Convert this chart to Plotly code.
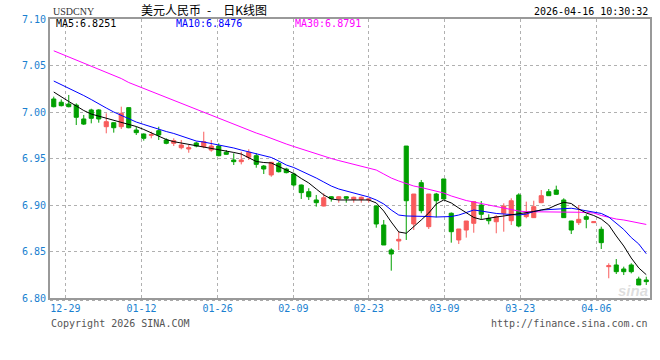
import plotly.graph_objects as go

# ---------------- data ----------------
opens = [7.0140, 7.0105, 7.0086, 7.0075, 6.9925, 7.0022, 7.0022, 6.9842, 6.9885, 6.9842,
         7.0047, 6.9806, 6.9763, 6.9750, 6.9799, 6.9699, 6.9663, 6.9616, 6.9602, 6.9667,
         6.9627, 6.9591, 6.9634, 6.9567, 6.9484, 6.9466, 6.9513, 6.9530, 6.9419, 6.9323,
         6.9448, 6.9387, 6.9333, 6.9215, 6.9143, 6.9054, 6.8989, 6.9089, 6.9065, 6.9089,
         6.9061, 6.9061, 6.9054, 6.8989, 6.8785, 6.8516, 6.8613, 6.9634, 6.8796, 6.9240,
         6.8767, 6.9118, 6.9280, 6.8911, 6.8624, 6.8731, 6.8803, 6.9000, 6.8857, 6.8820,
         6.8911, 6.8831, 6.9108, 6.8875, 6.8864, 6.9025, 6.9143, 6.9161, 6.9054, 6.8828,
         6.8810, 6.8875, 6.8810, 6.8739, 6.8337, 6.8355, 6.8312, 6.8355, 6.8204, 6.8194]

highs = [7.0165, 7.0135, 7.0183, 7.0093, 6.9968, 7.0035, 7.0030, 6.9986, 6.9890, 7.0057,
         7.0050, 6.9842, 6.9770, 6.9788, 6.9842, 6.9717, 6.9717, 6.9699, 6.9645, 6.9680,
         6.9788, 6.9699, 6.9663, 6.9591, 6.9556, 6.9573, 6.9599, 6.9556, 6.9430, 6.9462,
         6.9466, 6.9400, 6.9348, 6.9220, 6.9180, 6.9108, 6.9126, 6.9095, 6.9095, 6.9095,
         6.9090, 6.9090, 6.9075, 6.8995, 6.8839, 6.8534, 6.8713, 6.9634, 6.9118, 6.9269,
         6.9118, 6.9130, 6.9280, 6.8920, 6.8742, 6.8828, 6.9036, 6.9043, 6.8900, 6.8892,
         6.9018, 6.9072, 6.9126, 6.9036, 6.9046, 6.9161, 6.9172, 6.9208, 6.9072, 6.8830,
         6.9000, 6.8900, 6.8822, 6.8767, 6.8373, 6.8419, 6.8337, 6.8373, 6.8229, 6.8229]

lows = [7.0050, 7.0060, 7.0050, 6.9860, 6.9860, 6.9878, 6.9885, 6.9771, 6.9778, 6.9817,
        6.9825, 6.9753, 6.9692, 6.9717, 6.9699, 6.9653, 6.9634, 6.9599, 6.9562, 6.9620,
        6.9610, 6.9573, 6.9525, 6.9540, 6.9430, 6.9437, 6.9484, 6.9401, 6.9333, 6.9304,
        6.9350, 6.9340, 6.9197, 6.9065, 6.9054, 6.8982, 6.8985, 6.9036, 6.9025, 6.9025,
        6.9025, 6.9025, 6.9025, 6.8756, 6.8570, 6.8294, 6.8516, 6.8624, 6.8731, 6.8911,
        6.8742, 6.8867, 6.9065, 6.8595, 6.8581, 6.8649, 6.8702, 6.8846, 6.8792, 6.8696,
        6.8713, 6.8785, 6.8760, 6.8857, 6.8860, 6.9020, 6.9100, 6.9110, 6.8864, 6.8688,
        6.8785, 6.8750, 6.8808, 6.8527, 6.8212, 6.8258, 6.8247, 6.8265, 6.8140, 6.8140]

closes = [7.0057, 7.0068, 7.0057, 6.9943, 6.9870, 6.9932, 6.9925, 6.9896, 6.9831, 6.9986,
          6.9831, 6.9778, 6.9717, 6.9756, 6.9753, 6.9663, 6.9692, 6.9645, 6.9616, 6.9634,
          6.9681, 6.9634, 6.9530, 6.9545, 6.9466, 6.9484, 6.9567, 6.9437, 6.9387, 6.9459,
          6.9358, 6.9348, 6.9215, 6.9133, 6.9089, 6.9025, 6.9078, 6.9068, 6.9089, 6.9072,
          6.9083, 6.9083, 6.9065, 6.8796, 6.8570, 6.8473, 6.8631, 6.9046, 6.9118, 6.8939,
          6.9118, 6.9046, 6.9065, 6.8713, 6.8742, 6.8828, 6.9036, 6.8900, 6.8831, 6.8875,
          6.8989, 6.9046, 6.8774, 6.8911, 6.8982, 6.9100, 6.9100, 6.9115, 6.8864, 6.8731,
          6.8846, 6.8846, 6.8820, 6.8595, 6.8347, 6.8283, 6.8283, 6.8283, 6.8140, 6.8176]

ma5 = [7.0215, 7.0161, 7.0113, 7.0065, 7.0016, 6.9978, 6.9957, 6.9935, 6.9909, 6.9887,
       6.9866, 6.9844, 6.9812, 6.9774, 6.9737, 6.9704, 6.9681, 6.9667, 6.9651, 6.9640,
       6.9629, 6.9608, 6.9597, 6.9581, 6.9565, 6.9548, 6.9505, 6.9468, 6.9457, 6.9452,
       6.9414, 6.9376, 6.9339, 6.9285, 6.9237, 6.9172, 6.9108, 6.9065, 6.9054, 6.9054,
       6.9054, 6.9059, 6.9054, 6.9022, 6.8935, 6.8817, 6.8710, 6.8696, 6.8763, 6.8839,
       6.8914, 6.9011, 6.9054, 6.9022, 6.8968, 6.8914, 6.8866, 6.8844, 6.8860, 6.8871,
       6.8882, 6.8892, 6.8903, 6.8914, 6.8930, 6.8946, 6.8962, 6.9000, 6.9029, 6.9016,
       6.8957, 6.8914, 6.8887, 6.8849, 6.8785, 6.8667, 6.8559, 6.8430, 6.8323, 6.8251]

ma10 = [7.0333, 7.0296, 7.0258, 7.0220, 7.0177, 7.0134, 7.0086, 7.0043, 7.0000, 6.9962,
        6.9925, 6.9892, 6.9866, 6.9839, 6.9817, 6.9790, 6.9769, 6.9742, 6.9710, 6.9688,
        6.9677, 6.9661, 6.9651, 6.9634, 6.9613, 6.9591, 6.9570, 6.9556, 6.9532, 6.9511,
        6.9473, 6.9430, 6.9403, 6.9366, 6.9333, 6.9290, 6.9247, 6.9204, 6.9172, 6.9151,
        6.9129, 6.9108, 6.9086, 6.9054, 6.9011, 6.8946, 6.8892, 6.8882, 6.8882, 6.8882,
        6.8876, 6.8871, 6.8871, 6.8876, 6.8892, 6.8919, 6.8946, 6.8935, 6.8919, 6.8909,
        6.8903, 6.8898, 6.8892, 6.8903, 6.8930, 6.8946, 6.8952, 6.8957, 6.8962, 6.8965,
        6.8952, 6.8935, 6.8919, 6.8909, 6.8871, 6.8806, 6.8737, 6.8650, 6.8581, 6.8476]

ma30 = [7.0658, 7.0625, 7.0591, 7.0558, 7.0526, 7.0492, 7.0459, 7.0426, 7.0392, 7.0360,
        7.0317, 7.0285, 7.0253, 7.0220, 7.0188, 7.0156, 7.0124, 7.0091, 7.0059, 7.0027,
        6.9995, 6.9962, 6.9927, 6.9898, 6.9868, 6.9839, 6.9806, 6.9774, 6.9747, 6.9715,
        6.9688, 6.9656, 6.9629, 6.9602, 6.9575, 6.9548, 6.9527, 6.9500, 6.9478, 6.9457,
        6.9435, 6.9419, 6.9398, 6.9376, 6.9333, 6.9290, 6.9258, 6.9231, 6.9204, 6.9188,
        6.9167, 6.9151, 6.9129, 6.9097, 6.9070, 6.9048, 6.9032, 6.9016, 6.8995, 6.8978,
        6.8962, 6.8946, 6.8935, 6.8928, 6.8928, 6.8928, 6.8928, 6.8928, 6.8925, 6.8925,
        6.8922, 6.8919, 6.8914, 6.8887, 6.8866, 6.8849, 6.8839, 6.8823, 6.8806, 6.8791]

x_tick_labels = ["12-29", "01-12", "01-26", "02-09", "02-23", "03-09", "03-23", "04-06"]
y_tick_values = [6.80, 6.85, 6.90, 6.95, 7.00, 7.05, 7.10]

symbol = "USDCNY"
title_text = "美元人民币\u2002-\u2002\u2002日K线图"
timestamp = "2026-04-16 10:30:32"
copyright_text = "Copyright 2026 SINA.COM"
url_text = "http://finance.sina.com.cn"

# ---------------- figure ----------------
idx = list(range(len(closes)))
RED = "#f85c5c"
GREEN = "#00a000"
BLUE_TXT = "#1a7fd0"
MONO = "DejaVu Sans Mono"

fig = go.Figure()
fig.add_trace(go.Candlestick(
    x=idx, open=opens, high=highs, low=lows, close=closes,
    increasing=dict(line=dict(color=RED, width=1), fillcolor=RED),
    decreasing=dict(line=dict(color=GREEN, width=1), fillcolor=GREEN),
    whiskerwidth=0, showlegend=False, hoverinfo="skip",
))
for vals, col in ((ma30, "#ff00ff"), (ma10, "#0000ff"), (ma5, "#000000")):
    fig.add_trace(go.Scatter(x=idx, y=vals, mode="lines",
                             line=dict(color=col, width=1),
                             showlegend=False, hoverinfo="skip"))

L, R, T, B = 50, 650, 19, 298


def px_x(p):
    return (p - L) / (R - L)


def px_y(p):
    return (B - p) / (B - T)


tick_pos = [1.55, 11.7, 21.85, 31.95, 42.0, 52.1, 62.2, 72.35]

fig.update_layout(
    width=660, height=360,
    margin=dict(l=L, r=660 - R, t=T, b=360 - B, pad=0, autoexpand=False),
    paper_bgcolor="white", plot_bgcolor="white",
    showlegend=False, boxgap=0.22,
    xaxis=dict(
        range=[-0.5, len(closes) - 0.5],
        tickmode="array", tickvals=tick_pos, ticktext=x_tick_labels,
        showgrid=True, gridcolor="#b0b0b0", griddash="dot", gridwidth=1,
        showline=True, linecolor="#999999", linewidth=2, mirror=True,
        ticks="", zeroline=False,
        tickfont=dict(family=MONO, size=10, color=BLUE_TXT),
        rangeslider=dict(visible=False),
    ),
    yaxis=dict(
        range=[6.80, 7.10],
        tickmode="array", tickvals=y_tick_values,
        ticktext=["%.2f" % v for v in y_tick_values],
        showgrid=True, gridcolor="#b0b0b0", griddash="dot", gridwidth=1,
        showline=True, linecolor="#999999", linewidth=2, mirror=True,
        ticks="", zeroline=False,
        tickfont=dict(family=MONO, size=10, color=BLUE_TXT),
    ),
)

# dotted line below the x axis
fig.add_shape(type="line", xref="paper", yref="paper",
              x0=0, x1=1, y0=px_y(300.5), y1=px_y(300.5),
              line=dict(color="#aaaaaa", width=1, dash="dot"))

ann = []


def text(s, px, py, anchor="left", family=MONO, size=10, color="#000000"):
    ann.append(dict(text=s, xref="paper", yref="paper", x=px_x(px), y=px_y(py),
                    xanchor=anchor, yanchor="middle", showarrow=False,
                    font=dict(family=family, size=size, color=color)))


text(symbol, 51, 11.5, family="Liberation Serif", size=10, color="#333333")
text(title_text, 139, 9.5, family="Noto Sans CJK SC", size=12, color="#000000")
text(timestamp, 650, 11.5, anchor="right")
text("MA5:%.4f" % ma5[-1], 54, 24, color="#000000")
text("MA10:%.4f" % ma10[-1], 174, 24, color="#0000ff")
text("MA30:%.4f" % ma30[-1], 293, 24, color="#ff00ff")
text(copyright_text, 49, 323.5, color="#555555")
text(url_text, 650, 323.5, anchor="right", color="#555555")
ann.append(dict(text="<b><i>sina</i></b>", xref="paper", yref="paper",
                x=px_x(633), y=px_y(290), xanchor="center", yanchor="middle",
                showarrow=False,
                font=dict(family="Liberation Sans", size=15, color="rgba(160,160,160,0.35)")))
fig.update_layout(annotations=ann)

fig.write_html("out.html", config={"displayModeBar": False},
               post_script="document.body.style.margin='0';document.body.style.overflow='hidden';")
